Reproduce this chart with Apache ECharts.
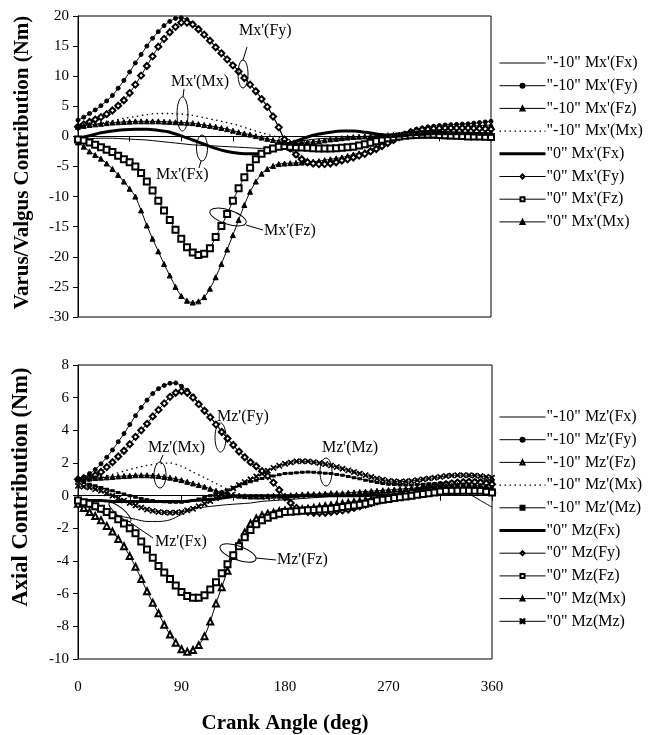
<!DOCTYPE html>
<html><head><meta charset="utf-8">
<script src="https://cdn.jsdelivr.net/npm/echarts@6/dist/echarts.min.js"></script>
<style>html,body{margin:0;padding:0;background:#fff}#c{width:659px;height:735px}</style>
</head><body><div id="c"></div>
<script>
// ---- data ----
const angles10 = [0,10,20,30,40,50,60,70,80,90,100,110,120,130,140,150,160,170,180,190,200,210,220,230,240,250,260,270,280,290,300,310,320,330,340,350,360];
const angles5 = [0,5,10,15,20,25,30,35,40,45,50,55,60,65,70,75,80,85,90,95,100,105,110,115,120,125,130,135,140,145,150,155,160,165,170,175,180,185,190,195,200,205,210,215,220,225,230,235,240,245,250,255,260,265,270,275,280,285,290,295,300,305,310,315,320,325,330,335,340,345,350,355,360];
const xTickLabels = [0,90,180,270,360];

// Top chart: Varus/Valgus contribution (Nm)
const mxFx10 = [-0.6,-0.4,-0.3,-0.3,-0.4,-0.5,-0.6,-0.8,-1.0,-1.2,-1.4,-1.5,-1.6,-1.7,-1.8,-1.9,-2.0,-1.9,-1.4,-0.9,-0.6,-0.4,-0.3,-0.3,-0.3,-0.3,-0.3,-0.3,-0.2,-0.2,-0.3,-0.3,-0.4,-0.4,-0.5,-0.5,-0.6];
const mxFy10 = [2.7,3.2,3.8,4.4,5.1,5.9,6.8,8.0,9.3,10.7,12.2,13.6,15.0,16.3,17.4,18.4,19.1,19.6,19.7,19.4,18.8,18.0,17.0,16.0,14.9,13.9,12.9,11.9,10.9,9.8,8.7,7.6,6.3,5.0,3.4,1.5,-0.7,-2.2,-3.2,-3.9,-4.3,-4.5,-4.6,-4.5,-4.4,-4.2,-3.9,-3.7,-3.4,-3.1,-2.8,-2.4,-2.0,-1.5,-1.0,-0.4,0.1,0.5,0.9,1.2,1.4,1.6,1.7,1.8,1.9,1.95,2.0,2.05,2.1,2.2,2.3,2.4,2.5];
const mxFz10 = [-1.0,-1.7,-2.5,-3.1,-3.7,-4.5,-5.4,-6.4,-7.5,-8.7,-10.0,-12.3,-14.8,-17.0,-19.1,-21.2,-23.1,-25.0,-26.5,-27.3,-27.6,-27.4,-26.7,-25.3,-23.4,-21.2,-18.8,-16.4,-13.9,-11.4,-9.2,-7.5,-6.2,-5.4,-4.9,-4.6,-4.5,-4.45,-4.4,-4.35,-4.3,-4.2,-4.1,-3.95,-3.8,-3.65,-3.5,-3.25,-3.0,-2.8,-2.6,-2.2,-1.8,-1.35,-0.9,-0.5,-0.1,0.3,0.7,0.9,1.1,1.2,1.3,1.4,1.5,1.55,1.6,1.65,1.7,1.75,1.8,1.85,1.9];
const mxMx10 = [1.4,1.8,2.2,2.6,3.0,3.3,3.6,3.8,3.8,3.7,3.5,3.1,2.7,2.3,1.8,1.2,0.6,0.1,-0.4,-0.7,-0.8,-0.7,-0.6,-0.5,-0.4,-0.3,-0.2,-0.1,0.0,0.0,0.0,0.0,-0.1,-0.1,-0.1,-0.1,-0.1];
const mxFx0 = [-0.3,0.1,0.6,0.9,1.1,1.2,1.2,1.0,0.7,0.1,-0.6,-1.3,-2.0,-2.5,-2.8,-2.9,-2.8,-2.3,-1.5,-0.8,-0.1,0.4,0.7,0.9,0.9,0.7,0.4,0.2,0.1,0.1,0.2,0.3,0.4,0.4,0.4,0.4,0.3];
const mxFy0 = [1.6,2.0,2.4,2.8,3.2,3.7,4.3,5.1,6.0,7.2,8.6,10.1,11.7,13.3,14.9,16.2,17.3,18.2,18.9,18.9,18.6,17.8,16.9,15.9,14.8,13.8,12.8,11.8,10.8,9.7,8.6,7.5,6.2,4.9,3.3,1.5,-0.5,-2.0,-3.0,-3.8,-4.3,-4.5,-4.6,-4.6,-4.5,-4.3,-4.0,-3.8,-3.5,-3.2,-2.9,-2.5,-2.1,-1.6,-1.1,-0.6,-0.1,0.3,0.7,0.9,1.1,1.2,1.3,1.35,1.4,1.4,1.4,1.4,1.4,1.35,1.3,1.25,1.2];
const mxFz0 = [-0.5,-0.7,-1.0,-1.4,-1.8,-2.2,-2.6,-3.2,-3.8,-4.3,-5.0,-6.1,-7.5,-9.0,-10.7,-12.3,-13.9,-15.5,-17.0,-18.4,-19.3,-19.7,-19.5,-18.6,-16.7,-14.9,-12.9,-10.7,-8.6,-6.8,-5.2,-3.8,-2.9,-2.3,-2.0,-1.7,-1.6,-1.7,-1.8,-1.85,-1.9,-1.95,-2.0,-2.0,-2.0,-1.95,-1.9,-1.8,-1.7,-1.5,-1.3,-1.05,-0.8,-0.55,-0.3,-0.15,0.0,0.1,0.2,0.25,0.3,0.3,0.3,0.25,0.2,0.15,0.1,0.05,0.0,0.0,0.0,-0.05,-0.1];
const mxMx0 = [1.6,1.75,1.9,2.0,2.1,2.2,2.3,2.35,2.4,2.45,2.5,2.5,2.5,2.5,2.5,2.45,2.4,2.35,2.3,2.25,2.2,2.05,1.9,1.75,1.6,1.4,1.2,0.95,0.7,0.5,0.3,0.05,-0.2,-0.4,-0.6,-0.8,-1.0,-1.05,-1.1,-1.05,-1.0,-0.9,-0.8,-0.65,-0.5,-0.4,-0.3,-0.2,-0.1,-0.05,0.0,0.05,0.1,0.15,0.2,0.25,0.3,0.4,0.5,0.55,0.6,0.65,0.7,0.7,0.7,0.7,0.7,0.7,0.7,0.65,0.6,0.6,0.6];

// Bottom chart: Axial contribution (Nm)
const mzFx10 = [-0.4,-0.7,-1.0,-1.25,-1.3,-1.45,-1.58,-1.58,-1.48,-1.15,-0.82,-0.7,-0.62,-0.55,-0.5,-0.45,-0.35,-0.3,-0.25,-0.2,-0.15,-0.1,-0.05,0.0,0.05,0.1,0.15,0.2,0.25,0.3,0.35,0.35,0.35,0.3,0.1,-0.3,-0.7];
const mzFy10 = [1.0,1.15,1.35,1.6,1.95,2.35,2.8,3.3,3.8,4.35,4.9,5.4,5.85,6.25,6.55,6.75,6.88,6.9,6.7,6.45,6.1,5.65,5.2,4.8,4.4,3.95,3.5,3.1,2.7,2.35,2.0,1.75,1.5,1.2,0.8,0.35,-0.1,-0.5,-0.8,-0.95,-1.0,-1.05,-1.05,-1.05,-1.0,-0.95,-0.9,-0.85,-0.8,-0.7,-0.6,-0.5,-0.4,-0.3,-0.2,-0.1,0.0,0.1,0.2,0.3,0.4,0.5,0.6,0.7,0.75,0.8,0.85,0.88,0.9,0.9,0.9,0.85,0.8];
const mzFz10 = [-0.5,-0.75,-1.0,-1.25,-1.5,-1.85,-2.2,-2.65,-3.1,-3.7,-4.35,-5.1,-5.85,-6.55,-7.2,-7.9,-8.5,-9.0,-9.4,-9.55,-9.45,-9.15,-8.6,-7.7,-6.6,-5.6,-4.6,-3.7,-2.9,-2.25,-1.7,-1.4,-1.2,-1.1,-1.05,-0.95,-0.9,-0.88,-0.85,-0.83,-0.8,-0.75,-0.7,-0.65,-0.6,-0.55,-0.5,-0.45,-0.4,-0.35,-0.3,-0.25,-0.2,-0.15,-0.1,-0.05,0.0,0.05,0.1,0.15,0.2,0.25,0.3,0.35,0.4,0.45,0.5,0.5,0.5,0.5,0.5,0.45,0.4];
const mzMx10 = [0.8,0.9,1.1,1.3,1.5,1.7,1.85,1.95,2.0,1.8,1.45,1.1,0.75,0.4,0.1,-0.1,-0.2,-0.25,-0.2,-0.15,-0.1,-0.05,0.0,0.05,0.1,0.15,0.2,0.25,0.3,0.35,0.4,0.45,0.5,0.5,0.5,0.5,0.4];
const mzMz10 = [0.9,0.8,0.7,0.6,0.5,0.4,0.3,0.2,0.1,0.0,-0.1,-0.18,-0.25,-0.3,-0.35,-0.38,-0.4,-0.4,-0.4,-0.35,-0.3,-0.2,-0.1,0.0,0.1,0.22,0.35,0.48,0.6,0.73,0.85,0.95,1.05,1.13,1.2,1.28,1.35,1.38,1.4,1.43,1.45,1.43,1.4,1.38,1.35,1.3,1.25,1.18,1.1,1.03,0.95,0.88,0.8,0.75,0.7,0.68,0.65,0.65,0.65,0.68,0.7,0.73,0.75,0.78,0.8,0.83,0.85,0.88,0.9,0.9,0.9,0.9,0.9];
const mzFx0 = [-0.3,-0.3,-0.3,-0.35,-0.35,-0.35,-0.35,-0.35,-0.35,-0.35,-0.3,-0.25,-0.2,-0.1,0.0,0.0,0.0,0.0,0.0,0.0,0.0,0.0,0.0,0.0,0.0,0.0,0.05,0.05,0.1,0.1,0.1,0.15,0.15,0.15,0.2,0.2,0.2];
const mzFy0 = [1.0,1.05,1.1,1.25,1.45,1.75,2.05,2.4,2.75,3.15,3.6,4.0,4.4,4.85,5.25,5.65,6.05,6.3,6.4,6.3,6.0,5.6,5.2,4.8,4.35,3.9,3.5,3.1,2.7,2.35,2.05,1.8,1.5,1.2,0.8,0.35,-0.1,-0.45,-0.75,-0.9,-1.0,-1.05,-1.05,-1.05,-1.0,-0.95,-0.9,-0.85,-0.75,-0.65,-0.55,-0.45,-0.35,-0.25,-0.15,-0.05,0.05,0.15,0.25,0.35,0.45,0.55,0.6,0.65,0.7,0.75,0.8,0.83,0.85,0.83,0.8,0.75,0.7];
const mzFz0 = [-0.3,-0.4,-0.5,-0.65,-0.8,-1.0,-1.2,-1.45,-1.7,-2.0,-2.3,-2.8,-3.3,-3.8,-4.3,-4.7,-5.1,-5.5,-5.9,-6.15,-6.25,-6.25,-6.1,-5.75,-5.3,-4.75,-4.2,-3.65,-3.1,-2.55,-2.1,-1.75,-1.5,-1.35,-1.2,-1.1,-1.0,-0.98,-0.95,-0.93,-0.9,-0.88,-0.85,-0.83,-0.8,-0.75,-0.7,-0.65,-0.6,-0.55,-0.5,-0.4,-0.3,-0.25,-0.2,-0.15,-0.1,-0.05,0.0,0.05,0.1,0.15,0.2,0.25,0.3,0.3,0.3,0.3,0.3,0.3,0.3,0.25,0.2];
const mzMx0 = [1.0,1.02,1.05,1.08,1.1,1.12,1.15,1.18,1.2,1.22,1.25,1.25,1.25,1.23,1.2,1.15,1.1,1.03,0.95,0.85,0.75,0.65,0.55,0.42,0.3,0.2,0.1,0.05,0.0,-0.03,-0.05,-0.05,-0.05,-0.03,0.0,0.0,0.0,0.03,0.05,0.08,0.1,0.1,0.1,0.13,0.15,0.15,0.15,0.18,0.2,0.23,0.25,0.28,0.3,0.33,0.35,0.38,0.4,0.43,0.45,0.48,0.5,0.53,0.55,0.58,0.6,0.63,0.65,0.65,0.65,0.63,0.6,0.55,0.5];
const mzMz0 = [0.6,0.55,0.5,0.4,0.3,0.15,0.0,-0.15,-0.3,-0.45,-0.6,-0.73,-0.85,-0.93,-1.0,-1.03,-1.05,-1.03,-1.0,-0.9,-0.8,-0.65,-0.5,-0.33,-0.15,0.05,0.25,0.45,0.65,0.83,1.0,1.18,1.35,1.53,1.7,1.83,1.95,2.03,2.1,2.1,2.1,2.05,2.0,1.93,1.85,1.75,1.65,1.55,1.45,1.35,1.25,1.15,1.05,0.98,0.9,0.88,0.85,0.88,0.9,0.95,1.0,1.05,1.1,1.15,1.2,1.23,1.25,1.25,1.25,1.23,1.2,1.15,1.1];

// ---- styles ----
const FONT = '"Liberation Serif","Times New Roman",serif';
const ASTER = 'path://M0,0L1.5,0L5,3.5L8.5,0L10,0L10,1.5L6.5,5L10,8.5L10,10L8.5,10L5,6.5L1.5,10L0,10L0,8.5L3.5,5L0,1.5Z';
const ST = {
  thin:   {symbol:'none', lw:1},
  dot:    {symbol:'none', lw:1.3, type:[1.5,3.5]},
  thick:  {symbol:'none', lw:3},
  circ:   {symbol:'circle', size:4, lw:1},
  tri:    {symbol:'triangle', size:5, lw:1},
  etri:   {symbol:'emptyTriangle', size:6, lw:1},
  dia:    {symbol:'emptyDiamond', size:6, lw:1},
  sq:     {symbol:'emptyRect', size:6, lw:1},
  dash:   {symbol:'rect', size:[3,2], lw:1},
  ast:    {symbol:ASTER, size:5, lw:1}
};
function mk(name, vals, gi, st) {
  const xs = vals.length === angles5.length ? angles5 : angles10;
  return {
    name, type:'line', xAxisIndex:gi, yAxisIndex:gi,
    data: xs.map((a,i)=>[a, vals[i]]),
    smooth: 0.3, symbol: st.symbol, symbolSize: st.size || 4, showSymbol: st.symbol !== 'none',
    lineStyle:{color:'#000', width:st.lw, type: st.type || 'solid'},
    itemStyle:{color:'#000', borderColor:'#000', borderWidth:1},
    emphasis:{disabled:true}, z: 2
  };
}
const topDefs = [
  ['"-10" Mx\'(Fx)', mxFx10, ST.thin],
  ['"-10" Mx\'(Fy)', mxFy10, ST.circ],
  ['"-10" Mx\'(Fz)', mxFz10, ST.tri],
  ['"-10" Mx\'(Mx)', mxMx10, ST.dot],
  ['"0" Mx\'(Fx)', mxFx0, ST.thick],
  ['"0" Mx\'(Fy)', mxFy0, ST.dia],
  ['"0" Mx\'(Fz)', mxFz0, ST.sq],
  ['"0" Mx\'(Mx)', mxMx0, ST.tri]
];
const botDefs = [
  ['"-10" Mz\'(Fx)', mzFx10, ST.thin],
  ['"-10" Mz\'(Fy)', mzFy10, ST.circ],
  ['"-10" Mz\'(Fz)', mzFz10, ST.etri],
  ['"-10" Mz\'(Mx)', mzMx10, ST.dot],
  ['"-10" Mz\'(Mz)', mzMz10, ST.dash],
  ['"0" Mz(Fx)', mzFx0, ST.thick],
  ['"0" Mz(Fy)', mzFy0, ST.dia],
  ['"0" Mz(Fz)', mzFz0, ST.sq],
  ['"0" Mz(Mx)', mzMx0, ST.tri],
  ['"0" Mz(Mz)', mzMz0, ST.ast]
];
const series = topDefs.map(d=>mk(d[0],d[1],0,d[2])).concat(botDefs.map(d=>mk(d[0],d[1],1,d[2])));
function legendData(defs){
  return defs.map(d => {
    const it = {name:d[0], lineStyle:{width:d[2].lw, color:'#000', type:d[2].type || 'solid'}};
    if (d[2].symbol === 'none') it.itemStyle = {opacity:0};
    return it;
  });
}
const LFS = 16;
const legendBase = {
  orient:'vertical', left:498, padding:0, itemWidth:46, itemHeight:5, itemGap:6.7,
  textStyle:{fontFamily:FONT, fontSize:LFS, color:'#000', padding:[0,0,0,-4]},
  inactiveColor:'#000', selectedMode:false
};
const axisCommon = {
  axisLine:{lineStyle:{color:'#000', width:1}},
  axisTick:{show:true, inside:false, length:5, lineStyle:{color:'#000'}},
  splitLine:{show:false}
};
const yLab = {fontFamily:FONT, fontSize:15, color:'#000', margin:9};
const yName = (txt, gap, fs, shift) => ({name:txt, nameLocation:'middle', nameGap:gap, nameRotate:90,
  nameTextStyle:{fontFamily:FONT, fontSize:fs, fontWeight:'bold', color:'#000', padding:[0,0,0,shift]}});

const option = {
  animation:false, backgroundColor:'#fff',
  grid:[
    {left:78, top:16, width:413, height:301, show:true, borderColor:'#000', borderWidth:1, backgroundColor:'transparent'},
    {left:78, top:365, width:414, height:294, show:true, borderColor:'#000', borderWidth:1, backgroundColor:'transparent'}
  ],
  xAxis:[
    Object.assign({}, axisCommon, {type:'value', gridIndex:0, min:0, max:360, interval:45, axisLabel:{show:false}}),
    Object.assign({}, axisCommon, {type:'value', gridIndex:1, min:0, max:360, interval:45,
      axisLabel:{fontFamily:FONT, fontSize:15, color:'#000', margin:21,
        formatter:v => xTickLabels.indexOf(v) >= 0 ? String(v) : ''},
      name:'Crank Angle (deg)', nameLocation:'middle', nameGap:54,
      nameTextStyle:{fontFamily:FONT, fontSize:21, fontWeight:'bold', color:'#000'}})
  ],
  yAxis:[
    Object.assign({}, axisCommon, {type:'value', gridIndex:0, min:-30, max:20, interval:5, axisLabel:yLab},
      yName('Varus/Valgus Contribution (Nm)', 45, 21, 8)),
    Object.assign({}, axisCommon, {type:'value', gridIndex:1, min:-10, max:8, interval:2, axisLabel:yLab},
      yName('Axial Contribution (Nm)', 45, 22.5, 50))
  ],
  legend:[
    Object.assign({}, legendBase, {top:55, data:legendData(topDefs)}),
    Object.assign({}, legendBase, {top:409, data:legendData(botDefs)})
  ],
  series
};
const chart = echarts.init(document.getElementById('c'), null, {renderer:'canvas'});
chart.setOption(option);

// ---- callout annotations (labels with ellipses and leader lines) ----
const AF = '16px ' + FONT;
const notes = [
  {t:"Mx'(Fy)", tx:239, ty:31, e:[243,74,5,14,0], l:[247,47,243,60]},
  {t:"Mx'(Mx)", tx:171, ty:82, e:[182.5,114,5.5,17,0], l:[184,89,183,97]},
  {t:"Mx'(Fx)", tx:156, ty:175, e:[202,148,5.5,13,0], l:[199,168,201,161]},
  {t:"Mx'(Fz)", tx:264, ty:231, e:[228,217,19,7,-18], l:[246,225,263,230]},
  {t:"Mz'(Fy)", tx:217, ty:417, e:[220.5,437.5,5.5,14.5,0], l:null},
  {t:"Mz'(Mx)", tx:148, ty:448, e:[160,475,6,13,0], l:[163,455,160,462]},
  {t:"Mz'(Mz)", tx:322, ty:448, e:[326,472,6,14,0], l:null},
  {t:"Mz'(Fx)", tx:155, ty:542, e:[120,512,14,4,-40], l:[128,521,153,538]},
  {t:"Mz'(Fz)", tx:277, ty:560, e:[238,553,19,7,-20], l:[256,558,276,560]}
];
const g = [];
notes.forEach(n => {
  g.push({type:'text', x:n.tx, y:n.ty, style:{text:n.t, font:AF, fill:'#000', verticalAlign:'middle', align:'left'}, z:10});
  g.push({type:'ellipse', x:n.e[0], y:n.e[1], rotation:n.e[4]*Math.PI/180, shape:{cx:0, cy:0, rx:n.e[2], ry:n.e[3]},
    style:{fill:'none', stroke:'#000', lineWidth:1}, z:10});
  if (n.l) g.push({type:'line', shape:{x1:n.l[0], y1:n.l[1], x2:n.l[2], y2:n.l[3]}, style:{stroke:'#000', lineWidth:1}, z:10});
});
chart.setOption({graphic:g});
</script></body></html>
